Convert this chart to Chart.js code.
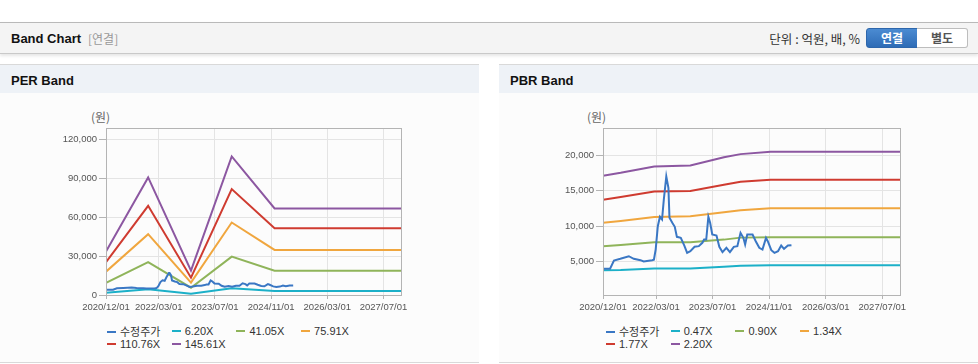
<!DOCTYPE html>
<html>
<head>
<meta charset="utf-8">
<script src="https://cdn.jsdelivr.net/npm/chart.js@4/dist/chart.umd.min.js"></script>
<style>
  body { margin: 0; width: 978px; height: 364px; background: #fff; position: relative; overflow: hidden;
         font-family: "Liberation Sans", Arial, "Noto Sans CJK KR", sans-serif; color: #333; }
  .head { position: absolute; left: 0; top: 22px; width: 978px; height: 30px; background: #f4f4f4;
          border-top: 1px solid #b9b9b9; border-bottom: 1px solid #c9c9c9; box-shadow: 0 2px 3px rgba(0,0,0,0.10); }
  .head .title { position: absolute; left: 11px; top: 8px; font-size: 13px; font-weight: bold; color: #111; }
  .head .sub { position: absolute; left: 88px; top: 9px; font-size: 12px; color: #999; font-family: "Noto Sans CJK KR", sans-serif; line-height: 14px; }
  .head .unit { position: absolute; right: 118px; top: 8px; font-size: 12.5px; color: #333; font-family: "Noto Sans CJK KR", sans-serif; line-height: 16px; }
  .btn { position: absolute; top: 5px; width: 50px; height: 18px; font-size: 12px; font-weight: bold; text-align: center;
         line-height: 18px; font-family: "Noto Sans CJK KR", sans-serif; }
  .btn.on { left: 866px; background: linear-gradient(#4b8bd2, #2e6cb6); color: #fff; border: 1px solid #2d66ab; border-radius: 3px 0 0 3px; }
  .btn.off { left: 917px; background: #fff; color: #555; border: 1px solid #bdbdbd; border-left: none; border-radius: 0 3px 3px 0; }
  .panel { position: absolute; top: 64px; height: 297px; background: #fcfcfc; border-top: 1px solid #d9d9d9; border-bottom: 1px solid #d9d9d9; }
  .panel .bar { height: 28px; background: #eef2f7; }
  .panel .bar span { position: absolute; left: 11px; top: 8px; font-size: 13px; font-weight: bold; color: #111; }
  .unitlbl { position: absolute; top: 108px; font-size: 12px; color: #666; font-family: "Noto Sans CJK KR", sans-serif; }
  .box { position: absolute; top: 120px; height: 200px; }
  .legend { position: absolute; top: 325px; font-size: 11px; color: #333; }
  .legend div { position: absolute; white-space: nowrap; height: 13px; line-height: 13px; }
  .legend i { display: inline-block; width: 9px; height: 2px; vertical-align: middle; margin-right: 4px; margin-top: -2px; }
  .legend span.k { font-family: "Noto Sans CJK KR", sans-serif; font-size: 11px; }
</style>
</head>
<body>
<div class="head">
  <div class="title">Band Chart</div>
  <div class="sub">[연결]</div>
  <div class="unit">단위 : 억원, 배, %</div>
  <div class="btn on">연결</div>
  <div class="btn off">별도</div>
</div>

<div class="panel" style="left:0; width:479px;"><div class="bar"><span>PER Band</span></div></div>
<div class="panel" style="left:499px; width:479px;"><div class="bar"><span>PBR Band</span></div></div>

<div class="unitlbl" style="left:91px;">(원)</div>
<div class="unitlbl" style="left:587px;">(원)</div>

<div class="box" style="left:40px; width:375px;"><canvas id="per"></canvas></div>
<div class="box" style="left:537px; width:378px;"><canvas id="pbr"></canvas></div>

<div class="legend" id="perLegend" style="left:107px;"></div>
<div class="legend" id="pbrLegend" style="left:606px;"></div>

<script>
// x values are months counted from 2020/12
const xTicks = [0, 15, 31, 47, 63, 79]
const xTickLabels = ['2020/12/01', '2022/03/01', '2023/07/01', '2024/11/01', '2026/03/01', '2027/07/01']
const xMax = 84

// adjusted share price (수정주가)
const priceMonths = [0, 2.0, 3.1, 4.9, 7.3, 8.7, 10.6, 11.5, 13.9, 14.4, 14.9, 15.5, 16.1, 16.7, 17.2, 17.9, 18.1, 18.5, 18.8,
  19.6, 20.3, 20.9, 22.0, 23.0, 23.8, 24.7, 25.9, 27.1, 28.1, 28.6, 29.2, 29.8, 30.3, 30.9, 32.1, 32.9, 33.8, 34.9, 35.9,
  37.0, 38.0, 38.9, 39.7, 40.2, 40.8, 42.3, 43.2, 44.2, 45.1, 46.1, 46.6, 47.6, 48.5, 49.5, 50.4, 51.2, 52.3, 53.3]
const priceValues = [4030, 4030, 5190, 5430, 5790, 5430, 5230, 5050, 5230, 5300, 6730, 10000, 11320, 10950, 13740, 17010, 17010, 15400, 11180,
  10480, 9920, 8510, 8370, 7290, 6270, 6500, 7110, 7200, 7670, 8140, 8140, 11320, 10480, 8840, 8700, 7110, 6360, 6970, 6360,
  7110, 7200, 9070, 8370, 7430, 8840, 8840, 7900, 6970, 6730, 8370, 7900, 6640, 6270, 6500, 7290, 6830, 7290, 7340]

// PER bands
const perLabels = ['6.20X', '41.05X', '75.91X', '110.76X', '145.61X']
const perMonths = [0, 12, 24.2, 35.8, 48, 84]
const per620 = [1780, 4410, 1010, 5190, 3100, 3100]
const per4105 = [9290, 25320, 5650, 29650, 18810, 18810]
const per7591 = [18040, 46990, 9520, 55980, 34840, 34840]
const per11076 = [25320, 68900, 13400, 81830, 51640, 51640]
const per14561 = [33520, 90810, 18810, 107070, 66810, 66810]
const perYTicks = [0, 30000, 60000, 90000, 120000]

// PBR bands
const pbrLabels = ['0.47X', '0.90X', '1.34X', '1.77X', '2.20X']
const pbrMonths = [0, 5, 14.5, 24.7, 34.2, 38.9, 47.4, 84]
const pbr047 = [3820, 3850, 4060, 4060, 4300, 4450, 4520, 4520]
const pbr090 = [7190, 7350, 7750, 7750, 8120, 8400, 8450, 8450]
const pbr134 = [10500, 10750, 11300, 11390, 11950, 12230, 12510, 12510]
const pbr177 = [13730, 14100, 14890, 14960, 15830, 16250, 16530, 16530]
const pbr220 = [17090, 17500, 18390, 18530, 19700, 20130, 20450, 20450]
const pbrYTicks = [5000, 10000, 15000, 20000]

const colors = ['#3a77c4', '#1cb0c8', '#8fb45a', '#f0a63e', '#cf3b30', '#8c57a1']
const tickFont = {family: '"Liberation Sans", Arial', size: 9.5}

const pairs = (xs, ys) => xs.map((x, i) => ({x, y: ys[i]}))

function makeDatasets(bandLabels, bandMonths, bandSeries) {
    const sets = [{label: '수정주가', data: pairs(priceMonths, priceValues)}]
    bandSeries.forEach((s, i) => sets.push({label: bandLabels[i], data: pairs(bandMonths, s)}))
    return sets.map((s, i) => ({...s, borderColor: colors[i], backgroundColor: colors[i], borderWidth: 2,
        pointRadius: 0, tension: 0, fill: false, order: i === 0 ? 0 : 1}))
}

const boxPlugin = {
    id: 'box',
    afterDraw(chart) {
        const {ctx, chartArea: a} = chart
        ctx.save()
        ctx.strokeStyle = '#b4b4b4'
        ctx.lineWidth = 1
        ctx.strokeRect(Math.round(a.left) + 0.5, Math.round(a.top) + 0.5, Math.round(a.right - a.left), Math.round(a.bottom - a.top))
        ctx.restore()
    }
}

function instantiateChart(id, datasets, yMin, yMax, yTicks, yWidth, padRight) {
    const ctx = document.getElementById(id).getContext('2d')
    return new Chart(ctx, {
        type: 'line',
        data: {datasets},
        plugins: [boxPlugin],
        options: {
            animation: false,
            events: [],
            responsive: true,
            maintainAspectRatio: false,
            layout: {padding: {top: 8, right: padRight, left: 0, bottom: 0}},
            plugins: {legend: {display: false}, tooltip: {enabled: false}},
            scales: {
                x: {
                    type: 'linear', min: 0, max: xMax,
                    afterBuildTicks: s => { s.ticks = xTicks.map(v => ({value: v})) },
                    afterFit: s => { s.height = 25 },
                    grid: {color: '#e4e4e4', tickColor: '#b4b4b4', tickLength: 4},
                    border: {color: '#b4b4b4'},
                    ticks: {
                        maxRotation: 0, autoSkip: false, padding: 3, color: '#555', font: tickFont,
                        callback: v => xTickLabels[xTicks.indexOf(v)]
                    }
                },
                y: {
                    min: yMin, max: yMax,
                    afterBuildTicks: s => { s.ticks = yTicks.map(v => ({value: v})) },
                    afterFit: s => { s.width = yWidth },
                    grid: {color: '#e4e4e4', tickColor: '#b4b4b4', tickLength: 7},
                    border: {color: '#b4b4b4'},
                    ticks: {
                        padding: 2, color: '#555', font: tickFont,
                        callback: v => v.toLocaleString('en-US')
                    }
                }
            }
        }
    })
}

function buildLegend(elId, chart) {
    const el = document.getElementById(elId)
    chart.data.datasets.forEach((d, i) => {
        const item = document.createElement('div')
        item.style.left = (i % 4) * 64.7 + 'px'
        item.style.top = Math.floor(i / 4) * 12.6 + 'px'
        const cls = i === 0 ? ' class="k"' : ''
        item.innerHTML = `<i style="background:${d.borderColor}"></i><span${cls}>${d.label}</span>`
        el.appendChild(item)
    })
}

const perChart = instantiateChart('per', makeDatasets(perLabels, perMonths, [per620, per4105, per7591, per11076, per14561]),
    0, 129000, perYTicks, 66, 14)
const pbrChart = instantiateChart('pbr', makeDatasets(pbrLabels, pbrMonths, [pbr047, pbr090, pbr134, pbr177, pbr220]),
    340, 23800, pbrYTicks, 66, 15)
buildLegend('perLegend', perChart)
buildLegend('pbrLegend', pbrChart)
</script>
</body>
</html>
